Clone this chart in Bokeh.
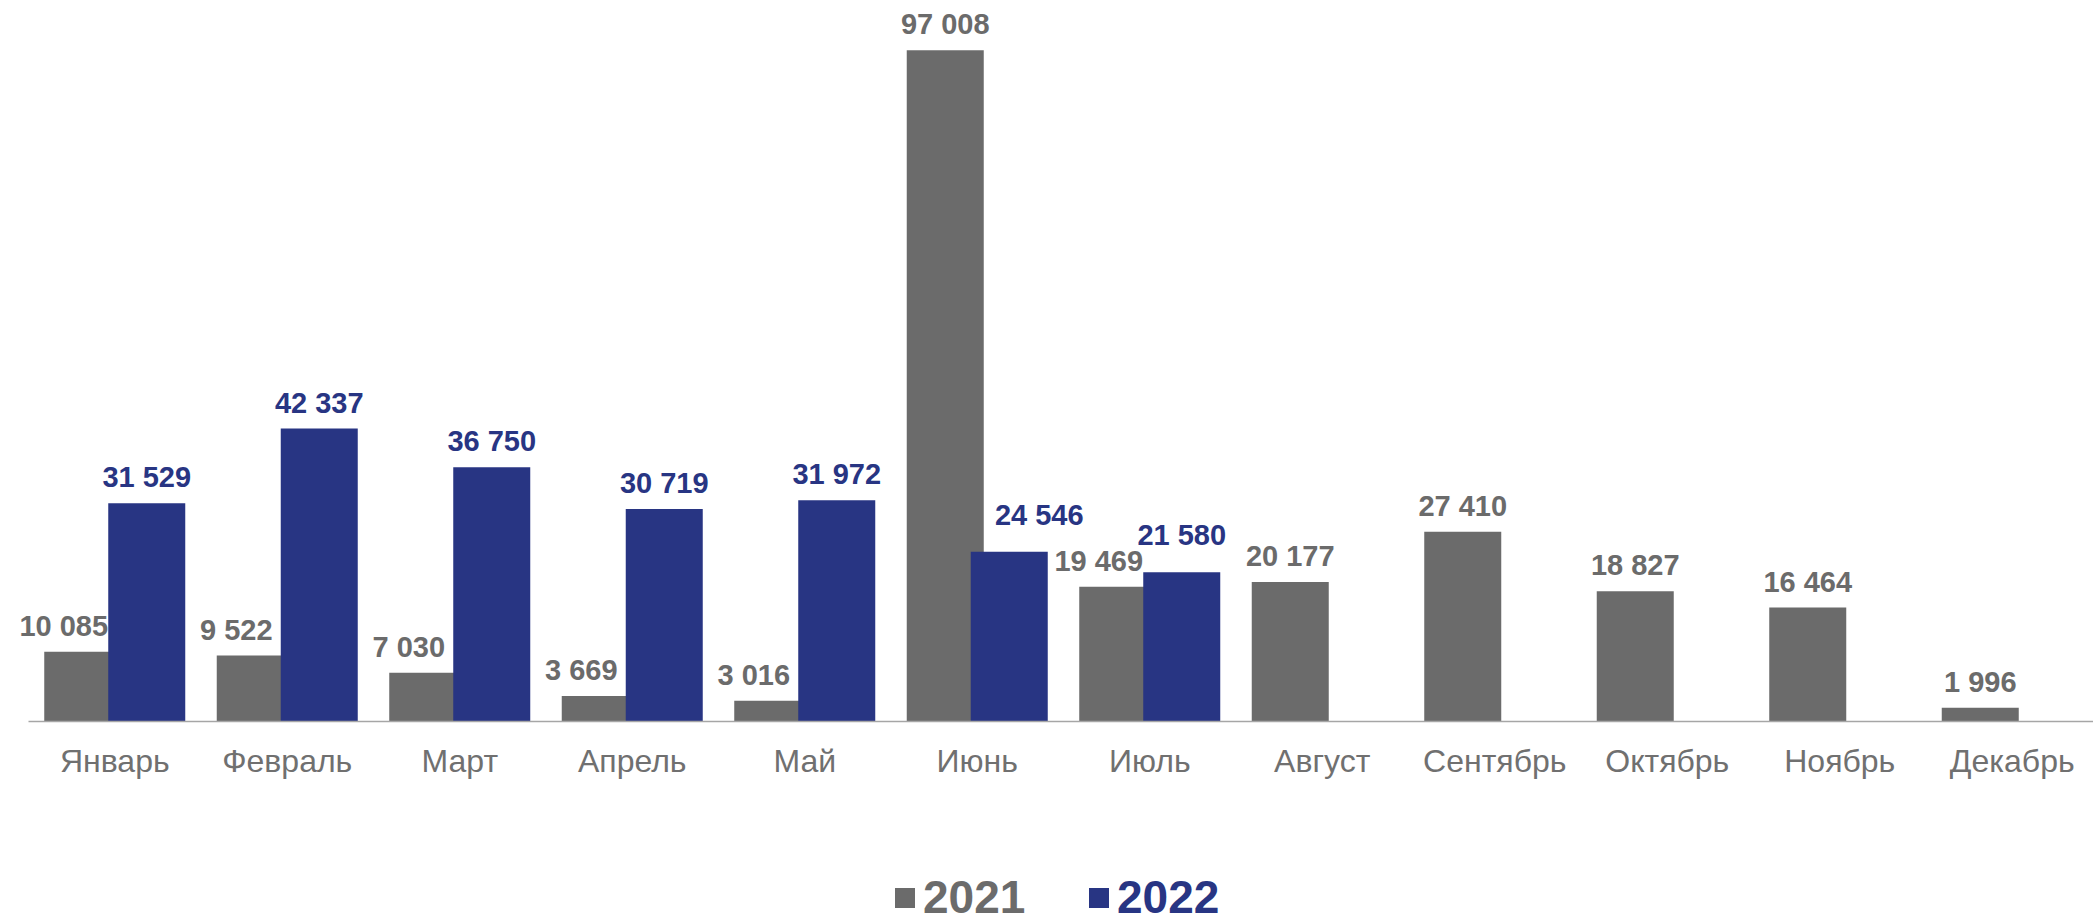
from bokeh.plotting import figure
from bokeh.models import ColumnDataSource, Range1d, FixedTicker, Legend, LegendItem
from bokeh.layouts import column
from bokeh.transform import dodge
from bokeh.core.properties import value
from bokeh.embed import file_html
from bokeh.resources import INLINE

# ---- data ----
months = ["Январь", "Февраль", "Март", "Апрель", "Май", "Июнь", "Июль",
          "Август", "Сентябрь", "Октябрь", "Ноябрь", "Декабрь"]
values_2021 = [10085, 9522, 7030, 3669, 3016, 97008, 19469, 20177, 27410, 18827, 16464, 1996]
values_2022 = [31529, 42337, 36750, 30719, 31972, 24546, 21580]
series_names = ["2021", "2022"]

GRAY = "#6b6b6b"
BLUE = "#283583"
LABEL_GRAY = "#707070"
FONT = "Liberation Sans"


def fmt(v):
    return f"{v:,}".replace(",", " ")


idx21 = list(range(len(values_2021)))
idx22 = list(range(len(values_2022)))

# label nudges derived from overlap rules (screen px)
BASE_GAP = -26
off21 = [(-19 if (i < len(values_2022) and v < values_2022[i]) else 0)
         for i, v in enumerate(values_2021)]
off22 = [(30 if values_2021[i] > v else 0) for i, v in enumerate(values_2022)]
yoff22 = [(BASE_GAP - 11 if values_2021[i] > 0.85 * v else BASE_GAP)
          for i, v in enumerate(values_2022)]

src21 = ColumnDataSource(dict(x=idx21, y=values_2021,
                              label=[fmt(v) for v in values_2021], xo=off21))
src22 = ColumnDataSource(dict(x=idx22, y=values_2022,
                              label=[fmt(v) for v in values_2022], xo=off22,
                              yo=yoff22))

W = 2093
H1 = 800
H2 = 122
PX_PER_CAT = 172.5
X0 = -0.5 - 28 / PX_PER_CAT
X1 = X0 + W / PX_PER_CAT
Y1 = 721 / 0.006919

p = figure(width=W, height=H1, output_backend="svg", toolbar_location=None,
           x_range=Range1d(X0, X1), y_range=Range1d(0, Y1),
           y_axis_location=None, min_border_left=0, min_border_right=0,
           min_border_top=0, min_border_bottom=H1 - 721)
p.outline_line_color = None
p.xgrid.visible = False
p.ygrid.visible = False
p.background_fill_color = "white"
p.border_fill_color = "white"

BW = 0.4464
OFF = 0.1855
r21 = p.vbar(x=dodge("x", -OFF, range=p.x_range), top="y", width=BW, bottom=0,
             source=src21, fill_color=GRAY, line_color=None)
r22 = p.vbar(x=dodge("x", OFF, range=p.x_range), top="y", width=BW, bottom=0,
             source=src22, fill_color=BLUE, line_color=None)

p.text(x=dodge("x", -OFF, range=p.x_range), y="y", text="label", source=src21,
       x_offset="xo", y_offset=BASE_GAP, text_align="center", text_baseline="alphabetic",
       text_font=value(FONT), text_font_style="bold", text_font_size="29px",
       text_color=GRAY)
p.text(x=dodge("x", OFF, range=p.x_range), y="y", text="label", source=src22,
       x_offset="xo", y_offset="yo", text_align="center", text_baseline="alphabetic",
       text_font=value(FONT), text_font_style="bold", text_font_size="29px",
       text_color=BLUE)

ax = p.xaxis[0]
ax.ticker = FixedTicker(ticks=idx21)
ax.major_label_overrides = {i: m for i, m in enumerate(months)}
ax.bounds = (-0.5, X1)
ax.axis_line_color = "#a6a6a6"
ax.axis_line_width = 1.5
ax.major_tick_line_color = None
ax.minor_tick_line_color = None
ax.major_label_text_font = FONT
ax.major_label_text_font_size = "32px"
ax.major_label_text_color = LABEL_GRAY
ax.major_label_standoff = 15

# ---- legend strip ----
lp = figure(width=W, height=H2, output_backend="svg", toolbar_location=None,
            x_range=Range1d(0, 1), y_range=Range1d(0, 1),
            x_axis_location=None, y_axis_location=None,
            min_border=0)
lp.outline_line_color = None
lp.xgrid.visible = False
lp.ygrid.visible = False
lp.border_fill_color = "white"
lp.background_fill_color = "white"

# zero-height proxy renderers that give the legend its swatches
l21 = lp.vbar(x=[-10], top=[0], bottom=[0], width=0.01, fill_color=GRAY, line_color=None)
l22 = lp.vbar(x=[-10], top=[0], bottom=[0], width=0.01, fill_color=BLUE, line_color=None)


def make_legend(name, rend, color, x):
    lg = Legend(items=[LegendItem(label=name, renderers=[rend])],
                location=(x, -2), orientation="horizontal",
                glyph_width=25, glyph_height=25, label_standoff=6,
                label_text_font=FONT, label_text_font_style="bold",
                label_text_font_size="46px", label_text_color=color,
                padding=0, margin=0, spacing=0,
                border_line_color=None, background_fill_alpha=0)
    lp.add_layout(lg, "center")
    return lg


make_legend(series_names[0], l21, GRAY, 892)
make_legend(series_names[1], l22, BLUE, 1086)

open("out.html", "w").write(file_html(column(p, lp, spacing=0), INLINE))
